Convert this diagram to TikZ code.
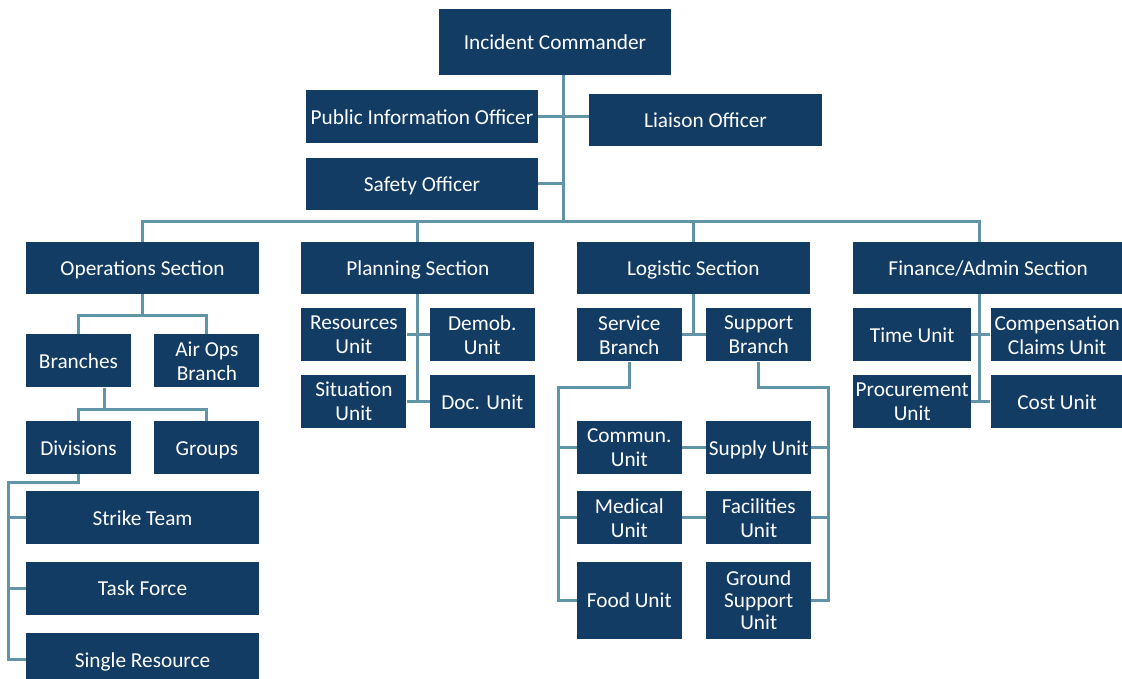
\documentclass[tikz,border=0pt]{standalone}
\usepackage{fontspec}
\setmainfont{Carlito}
\usetikzlibrary{positioning}
\definecolor{icsnavy}{RGB}{19,60,101}
\definecolor{icsline}{RGB}{98,148,168}

\begin{document}
\begin{tikzpicture}[x=1pt, y=-1pt, cell/.style={rectangle, fill=icsnavy, text=white, inner sep=0pt, align=center, font=\fontsize{21.3}{24}\selectfont}, oneline/.style={text height=15.5pt, text depth=0pt}, box/.style={cell, oneline, minimum width=233pt, minimum height=52pt}, smallbox/.style={cell, minimum width=105pt, minimum height=53pt}, link/.style={draw=icsline, line width=3pt}]
    \useasboundingbox (0,0) rectangle (1122,679);

    %Nodes
    \node[box, minimum width=232pt, minimum height=66pt](ic) at (555,42){Incident Commander};
    \node[box, minimum width=232pt, minimum height=53pt](pio) at (422,116.5){Public Information Officer};
    \node[box](liaison) at (705.5,120){Liaison Officer};
    \node[box, minimum width=232pt](safety) at (422,184){Safety Officer};

    \node[box](ops) at (142.5,268){Operations Section};
    \node[box](planning)[right=42pt of ops]{Planning Section};
    \node[box](logistic)[right=42pt of planning]{Logistic Section};
    \node[box, minimum width=270pt](finance)[right=43pt of logistic]{Finance/Admin Section};

    \node[smallbox, oneline](branches)[below=40pt of ops.south west, anchor=north west]{Branches};
    \node[smallbox](airops)[right=23pt of branches]{Air Ops\\Branch};
    \node[smallbox, oneline](divisions)[below=33pt of branches]{Divisions};
    \node[smallbox, oneline](groups)[right=23pt of divisions]{Groups};
    \node[box, minimum height=53pt](strike)[below=17pt of divisions.south west, anchor=north west]{Strike Team};
    \node[box, minimum height=53pt](task)[below=17pt of strike]{Task Force};
    \node[box, minimum height=53pt](single)[below=18pt of task]{Single Resource};

    \node[smallbox](resources)[below=14pt of planning.south west, anchor=north west]{Resources\\Unit};
    \node[smallbox](demob)[right=23pt of resources]{Demob.\\Unit};
    \node[smallbox](situation)[below=13pt of resources]{Situation\\Unit};
    \node[smallbox, oneline](doc)[right=23pt of situation]{Doc. Unit};

    \node[smallbox](service)[below=14pt of logistic.south west, anchor=north west]{Service\\Branch};
    \node[smallbox](support)[right=24pt of service]{Support\\Branch};
    \node[smallbox](commun)[below=59pt of service]{Commun.\\Unit};
    \node[smallbox, oneline](supply)[right=24pt of commun]{Supply Unit};
    \node[smallbox](medical)[below=17pt of commun]{Medical\\Unit};
    \node[smallbox](facilities)[right=24pt of medical]{Facilities\\Unit};
    \node[smallbox, oneline, minimum height=77pt](food)[below=17pt of medical]{Food Unit};
    \node[smallbox, minimum height=77pt, font=\fontsize{21.3}{22}\selectfont](ground)[right=24pt of food]{Ground\\Support\\Unit};

    \node[smallbox, oneline, minimum width=118pt](time)[below=14pt of finance.south west, anchor=north west]{Time Unit};
    \node[smallbox, minimum width=133pt](comp)[right=19pt of time]{Compensation\\Claims Unit};
    \node[smallbox, minimum width=118pt](procurement)[below=13pt of time]{Procurement\\Unit};
    \node[smallbox, oneline, minimum width=133pt](cost)[right=19pt of procurement]{Cost Unit};

    \coordinate (trunk) at (563,222);
    \coordinate (fbus) at (979,222);
    \coordinate (brdrop) at (104,409);
    \coordinate (opsrail) at (8,482);
    \coordinate (srvrail) at (558,387);
    \coordinate (suprail) at (828,387);

    %Lines
    \draw[link] (ic.south -| trunk) -- (trunk);
    \draw[link] (pio.east) -- (pio.east -| liaison.west);
    \draw[link] (safety.east) -- (safety.east -| trunk);
    \draw[link] (ops.north) |- (fbus) -- (fbus |- finance.north);
    \draw[link] (planning.north) -- (planning.north |- fbus);
    \draw[link] (logistic.north) -- (logistic.north |- fbus);

    \draw[link] (ops.south) -- ++(0,21);
    \draw[link] (branches.north) -- ++(0,-19) -| (airops.north);
    \draw[link] (brdrop |- branches.south) -- (brdrop);
    \draw[link] (divisions.north) -- ++(0,-11) -| (groups.north);
    \draw[link] (divisions.south) |- (opsrail) |- (single.west);
    \draw[link] (opsrail |- strike.west) -- (strike.west);
    \draw[link] (opsrail |- task.west) -- (task.west);

    \draw[link] (planning.south) -- (planning.south |- situation.east);
    \draw[link] (resources.east) -- (demob.west);
    \draw[link] (situation.east) -- (doc.west);

    \draw[link] (logistic.south) -- (logistic.south |- service.east);
    \draw[link] (service.east) -- (support.west);
    \draw[link] (service.south) |- (srvrail) |- (food.west);
    \draw[link] (srvrail |- commun.west) -- (commun.west);
    \draw[link] (srvrail |- medical.west) -- (medical.west);
    \draw[link] (support.south) |- (suprail) |- (ground.east);
    \draw[link] (suprail |- supply.east) -- (supply.east);
    \draw[link] (suprail |- facilities.east) -- (facilities.east);
    \draw[link] (commun.east) -- (supply.west);
    \draw[link] (medical.east) -- (facilities.west);

    \draw[link] (finance.south -| fbus) -- (fbus |- procurement.east);
    \draw[link] (time.east) -- (comp.west);
    \draw[link] (procurement.east) -- (cost.west);

\end{tikzpicture}
\end{document}
